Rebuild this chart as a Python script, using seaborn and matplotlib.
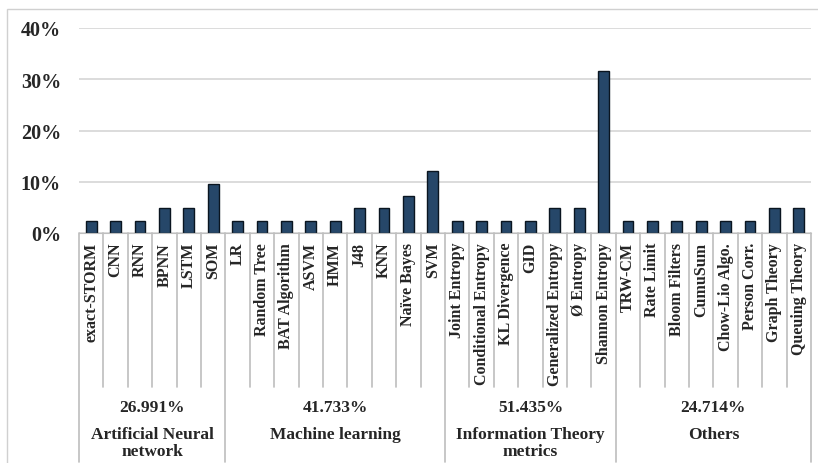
import matplotlib
matplotlib.use("Agg")
import matplotlib.pyplot as plt
import matplotlib.transforms as mtransforms
from matplotlib.patches import Rectangle
import pandas as pd
import seaborn as sns

# Data
methods = ["exact-STORM", "CNN", "RNN", "BPNN", "LSTM", "SOM",
           "LR", "Random Tree", "BAT Algorithm", "ASVM", "HMM", "J48", "KNN", "Naïve Bayes", "SVM",
           "Joint Entropy", "Conditional Entropy", "KL Divergence", "GID", "Generalized Entropy",
           "Ø Entropy", "Shannon Entropy",
           "TRW-CM", "Rate Limit", "Bloom Filters", "CumuSum", "Chow-Lio Algo.", "Person Corr.",
           "Graph Theory", "Queuing Theory"]
shares = [2.4, 2.4, 2.4, 4.8, 4.8, 9.6,
          2.4, 2.4, 2.4, 2.4, 2.4, 4.8, 4.8, 7.2, 12.1,
          2.4, 2.4, 2.4, 2.4, 4.8, 4.8, 31.6,
          2.4, 2.4, 2.4, 2.4, 2.4, 2.4, 4.8, 4.8]
group_names = ["Artificial Neural\nnetwork", "Machine learning",
               "Information Theory\nmetrics", "Others"]
group_totals = ["26.991%", "41.733%", "51.435%", "24.714%"]
group_sizes = [6, 9, 7, 8]

df = pd.DataFrame({"method": methods, "share": shares})

sns.set_style("white")
plt.rcParams["font.family"] = ["Liberation Serif", "DejaVu Serif"]
plt.rcParams["font.weight"] = "bold"

W, H = 818, 464
fig = plt.figure(figsize=(W / 100, H / 100), dpi=100)
ax = fig.add_axes([79 / W, 1 - 234 / H, 732 / W, 205 / H])

sns.barplot(data=df, x="method", y="share", color="#264769", saturation=1,
            width=0.45, edgecolor="#0a1520", linewidth=1, ax=ax)

ax.set_xlim(-0.5, len(methods) - 0.5)
ax.set_ylim(0, 40)
ax.set_yticks([0, 10, 20, 30, 40])
ax.set_yticklabels([f"{v}%" for v in [0, 10, 20, 30, 40]], fontsize=14.5, fontweight="bold")
ax.tick_params(axis="y", length=0, pad=13)
ax.set_xticks([])
ax.set_xlabel("")
ax.set_ylabel("")
ax.yaxis.grid(True, color="#d9d9d9", linewidth=1.3)
ax.set_axisbelow(True)
for s in ["top", "right", "left"]:
    ax.spines[s].set_visible(False)
ax.spines["bottom"].set_color("#bfbfbf")

# category table below the axis
trans = mtransforms.blended_transform_factory(ax.transData, fig.transFigure)
def fy(py):
    return 1 - py / H

bounds = [0]
for g in group_sizes:
    bounds.append(bounds[-1] + g)

for i in range(len(methods) + 1):
    x = i - 0.5
    bottom = 463 if i in bounds else 388
    ax.plot([x, x], [fy(234), fy(bottom)], color="#bdbdbd", linewidth=1.2,
            transform=trans, clip_on=False)

for i, m in enumerate(methods):
    ax.text(i, fy(243), m, rotation=90, ha="center", va="top", fontsize=11.5,
            fontweight="bold", transform=trans)

for k in range(len(group_names)):
    xc = (bounds[k] + bounds[k + 1] - 1) / 2
    ax.text(xc, fy(408), group_totals[k], ha="center", va="center", fontsize=12.5,
            fontweight="bold", transform=trans)
    ax.text(xc, fy(427), group_names[k], ha="center", va="top", fontsize=12.5,
            fontweight="bold", linespacing=1.1, transform=trans)

# light outer frame
fig.patches.append(Rectangle((7 / W, -0.05), 1.1, fy(10) + 0.05, fill=False,
                             edgecolor="#d0d0d0", linewidth=1, transform=fig.transFigure))

fig.savefig("out.png", dpi=100)
